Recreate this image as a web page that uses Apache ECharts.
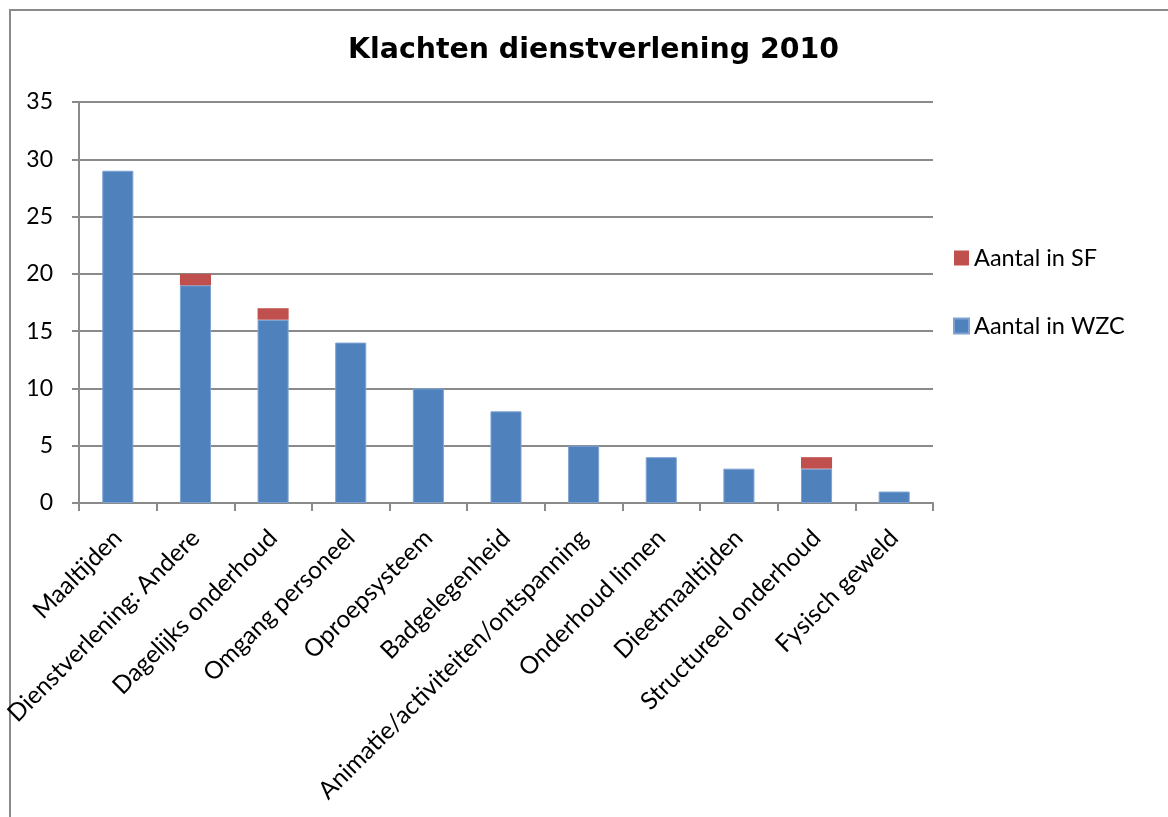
<!DOCTYPE html>
<html>
<head>
<meta charset="utf-8">
<script src="https://cdn.jsdelivr.net/npm/echarts@6/dist/echarts.min.js"></script>
<style>
  html, body { margin: 0; padding: 0; background: #fff; overflow: hidden; }
  #frame { position: absolute; left: 9px; top: 9px; width: 1400px; height: 1000px;
           border-top: 2px solid #8a8a8a; border-left: 2px solid #8a8a8a; }
  #chart { position: absolute; left: 0; top: 0; width: 1168px; height: 817px; }
</style>
</head>
<body>
<div id="frame"></div>
<div id="chart"></div>
<script>
// Complaint categories and counts per site
const categories = [
  'Maaltijden',
  'Dienstverlening: Andere',
  'Dagelijks onderhoud',
  'Omgang personeel',
  'Oproepsysteem',
  'Badgelegenheid',
  'Animatie/activiteiten/ontspanning',
  'Onderhoud linnen',
  'Dieetmaaltijden',
  'Structureel onderhoud',
  'Fysisch geweld'
];
const aantalWZC = [29, 19, 16, 14, 10, 8, 5, 4, 3, 3, 1];
const aantalSF  = [0, 1, 1, 0, 0, 0, 0, 0, 0, 1, 0];
const yTicks = { min: 0, max: 35, interval: 5 };

const labelFont = 'Lato, "Open Sans", sans-serif';
const gridColor = '#8a8a8a';

const chart = echarts.init(document.getElementById('chart'), null, { renderer: 'canvas' });
chart.setOption({
  animation: false,
  backgroundColor: 'transparent',
  title: {
    text: 'Klachten dienstverlening 2010',
    left: 343,
    top: 32,
    textStyle: { fontFamily: '"DejaVu Sans", sans-serif', fontWeight: 'bold', fontSize: 28.4, color: '#000' }
  },
  legend: {
    orient: 'vertical',
    left: 953,
    top: 246,
    padding: 0,
    itemWidth: 15,
    itemHeight: 15,
    itemGap: 44,
    icon: 'rect',
    data: ['Aantal in SF', 'Aantal in WZC'],
    textStyle: { fontFamily: labelFont, fontSize: 23.5, color: '#000', padding: [0, 0, 0, 0] }
  },
  grid: { left: 79, right: 235, top: 102, bottom: 314, containLabel: false },
  xAxis: {
    type: 'category',
    data: categories,
    axisLine: { lineStyle: { color: gridColor, width: 2 } },
    axisTick: { show: true, length: 8, lineStyle: { color: gridColor, width: 2 } },
    axisLabel: {
      interval: 0,
      rotate: 45,
      margin: 31,
      fontFamily: labelFont,
      fontSize: 24.5,
      color: '#000'
    }
  },
  yAxis: {
    type: 'value',
    min: yTicks.min,
    max: yTicks.max,
    interval: yTicks.interval,
    axisLine: { show: true, lineStyle: { color: gridColor, width: 2 } },
    axisTick: { show: true, length: 7, lineStyle: { color: gridColor, width: 2 } },
    splitLine: { lineStyle: { color: gridColor, width: 2 } },
    axisLabel: { margin: 26, fontFamily: labelFont, fontSize: 23, color: '#000' }
  },
  series: [
    {
      name: 'Aantal in WZC',
      type: 'bar',
      stack: 'totaal',
      barWidth: '40%',
      data: aantalWZC,
      itemStyle: { color: '#4F81BD', borderColor: '#7ea3d2', borderWidth: 1 }
    },
    {
      name: 'Aantal in SF',
      type: 'bar',
      stack: 'totaal',
      barWidth: '40%',
      data: aantalSF,
      itemStyle: { color: '#C0504D', borderWidth: 0 }
    }
  ]
});
</script>
</body>
</html>
